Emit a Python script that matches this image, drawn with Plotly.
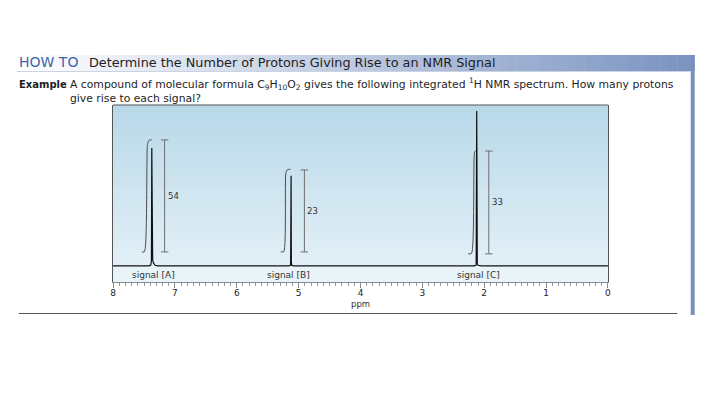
import plotly.graph_objects as go

# ---------------- data ----------------
# spectrum trace (ppm, intensity)
spec_ppm = [8.0, 7.42, 7.39, 7.38, 7.374, 7.370, 7.36, 7.35, 7.32, 7.28,
            5.16, 5.13, 5.122, 5.118, 5.11, 5.08,
            2.16, 2.13, 2.121, 2.116, 2.112, 2.10, 2.05, 0.0]
spec_int = [0, 0, 0.5, 3, 73.3, 8, 4, 2, 0.4, 0,
            0, 0.5, 56, 2, 0.3, 0,
            0, 0.5, 96.3, 6, 1.5, 0.4, 0, 0]

# integral curves
intA_ppm = [7.535, 7.492, 7.444, 7.425, 7.405, 7.375]
intA_val = [8.7, 8.9, 75.5, 77.8, 78.3, 78.3]
intB_ppm = [5.288, 5.239, 5.207, 5.185, 5.160, 5.131]
intB_val = [8.7, 8.9, 57.6, 59.6, 60.0, 60.0]
intC_ppm = [2.258, 2.205, 2.157, 2.141, 2.115]
intC_val = [7.5, 7.7, 70.4, 71.4, 71.6]

# integral rulers
ruler_ppm = [7.167, 4.907, 1.926]
ruler_bottom = [8.7, 8.7, 7.5]
ruler_top = [78.3, 59.6, 71.4]
ruler_labels = ["54", "23", "33"]
ruler_label_ppm = [7.15, 4.89, 1.91]
ruler_label_val = [43.5, 34.2, 39.9]

# signal labels
signal_labels = ["signal [A]", "signal [B]", "signal [C]"]
signal_ppm = [7.35, 5.16, 2.09]
signal_val = [-5.6, -5.6, -5.6]

tick_vals = [8, 7, 6, 5, 4, 3, 2, 1, 0]
tick_text = ["8", "7", "6", "5", "4", "3", "2", "1", "0"]

FONT = "DejaVu Sans"
W, H = 720, 405

def px(x):
    return x / W

def py(y):
    return 1 - y / H

fig = go.Figure()

# gradient background of the spectrum box
grad_edges = [i * 5 for i in range(21)]
grad_z = [[(grad_edges[i] + grad_edges[i + 1]) / 2] for i in range(20)]
fig.add_trace(go.Heatmap(
    x=[8.2, -0.2], y=grad_edges, z=grad_z,
    colorscale=[[0, "#e2eff6"], [1, "#b9d9e9"]],
    showscale=False, hoverinfo="skip", zsmooth=False,
))

# integral curves
for xs, ys in [(intA_ppm, intA_val), (intB_ppm, intB_val), (intC_ppm, intC_val)]:
    fig.add_trace(go.Scatter(x=xs, y=ys, mode="lines",
                             line=dict(color="#4a4a4a", width=1, shape="spline", smoothing=0.6),
                             hoverinfo="skip", showlegend=False))

# rulers
cap = 0.06
rx, ry = [], []
for p, b, t in zip(ruler_ppm, ruler_bottom, ruler_top):
    rx += [p, p, None, p - cap, p + cap, None, p - cap, p + cap, None]
    ry += [b, t, None, b, b, None, t, t, None]
fig.add_trace(go.Scatter(x=rx, y=ry, mode="lines", line=dict(color="#6e6e6e", width=1),
                         hoverinfo="skip", showlegend=False))

# spectrum
fig.add_trace(go.Scatter(x=spec_ppm, y=spec_int, mode="lines", line=dict(color="#111111", width=1.2),
                         hoverinfo="skip", showlegend=False))

ann = []
for t, x, y in zip(ruler_labels, ruler_label_ppm, ruler_label_val):
    ann.append(dict(x=x, y=y, xref="x", yref="y", text=t, showarrow=False, xanchor="left", yanchor="middle",
                    font=dict(family=FONT, size=8.5, color="#333333")))
for t, x, y in zip(signal_labels, signal_ppm, signal_val):
    ann.append(dict(x=x, y=y, xref="x", yref="y", text=t, showarrow=False, xanchor="center", yanchor="middle",
                    font=dict(family=FONT, size=9, color="#333333")))
ann.append(dict(x=4, y=py(303.5), xref="x", yref="paper", text="ppm", showarrow=False, xanchor="center",
                yanchor="middle", font=dict(family=FONT, size=8.5, color="#333333")))

# header texts
ann.append(dict(x=px(14), y=py(62), xref="paper", yref="paper", text="HOW TO", showarrow=False,
                xanchor="left", yanchor="middle", font=dict(family=FONT, size=14, color="#3d66ab")))
ann.append(dict(x=px(85), y=py(62.5), xref="paper", yref="paper",
                text="Determine the Number of Protons Giving Rise to an NMR Signal", showarrow=False,
                xanchor="left", yanchor="middle", font=dict(family=FONT, size=12.8, color="#1e1e1e")))
ann.append(dict(x=px(14), y=py(84.5), xref="paper", yref="paper", text="<b>Example</b>", showarrow=False,
                xanchor="left", yanchor="middle", font=dict(family=FONT, size=10, color="#1e1e1e")))
ann.append(dict(x=px(66), y=py(84.5), xref="paper", yref="paper",
                text="A compound of molecular formula C<sub>9</sub>H<sub>10</sub>O<sub>2</sub> gives the following integrated <sup>1</sup>H NMR spectrum. How many protons",
                showarrow=False, xanchor="left", yanchor="middle", font=dict(family=FONT, size=10.8, color="#1e1e1e")))
ann.append(dict(x=px(66), y=py(98), xref="paper", yref="paper", text="give rise to each signal?", showarrow=False,
                xanchor="left", yanchor="middle", font=dict(family=FONT, size=10.8, color="#1e1e1e")))

shapes = []
# header gradient band
n = 80
x0, x1 = 14, 697
c0, c1 = (255, 255, 255), (123, 147, 193)
for i in range(n):
    f = (i + 0.5) / n
    col = "rgb(%d,%d,%d)" % tuple(round(a + (b - a) * f) for a, b in zip(c0, c1))
    xa = x0 + (x1 - x0) * i / n
    xb = x0 + (x1 - x0) * (i + 1) / n + 0.5
    shapes.append(dict(type="rect", xref="paper", yref="paper", x0=px(xa), x1=px(xb), y0=py(71), y1=py(55),
                       line=dict(width=0), fillcolor=col, layer="below"))
shapes.append(dict(type="line", xref="paper", yref="paper", x0=px(14), x1=px(693), y0=py(71.5), y1=py(71.5),
                   line=dict(color="#c9d3e3", width=1)))
# right vertical bar
shapes.append(dict(type="rect", xref="paper", yref="paper", x0=px(693.5), x1=px(697.5), y0=py(315), y1=py(55),
                   line=dict(width=0), fillcolor="#7890bd"))
# bottom rule
shapes.append(dict(type="line", xref="paper", yref="paper", x0=px(16), x1=px(680), y0=py(313.5), y1=py(313.5),
                   line=dict(color="#555555", width=1.2)))
# top border of spectrum box
shapes.append(dict(type="line", xref="paper", yref="paper", x0=px(111), x1=px(610), y0=py(105), y1=py(105),
                   line=dict(color="#555555", width=1)))

fig.update_layout(
    width=W, height=H, autosize=False,
    margin=dict(l=0, r=0, t=0, b=0),
    paper_bgcolor="white", plot_bgcolor="#e9f4f9",
    showlegend=False,
    annotations=ann, shapes=shapes,
    xaxis=dict(domain=[px(111), px(610)], range=[8, 0], tickvals=tick_vals, ticktext=tick_text,
               ticks="outside", ticklen=5, tickwidth=1, tickcolor="#888888", ticklabelstandoff=-3,
               minor=dict(dtick=0.1, ticks="outside", ticklen=3, tickcolor="#999999", tickwidth=0.8),
               showgrid=False, zeroline=False, showline=True, linecolor="#8a8a8a", linewidth=1, mirror=False,
               tickfont=dict(family=FONT, size=9, color="#222222"), fixedrange=True),
    yaxis=dict(domain=[py(282), py(105)], range=[-10, 100], showticklabels=False, ticks="",
               showgrid=False, zeroline=True, zerolinecolor="#555555", zerolinewidth=1,
               showline=True, linecolor="#555555", linewidth=1, mirror=True, fixedrange=True),
)

fig.write_html("out.html", config={"displayModeBar": False},
               post_script="document.body.style.margin='0px';")
